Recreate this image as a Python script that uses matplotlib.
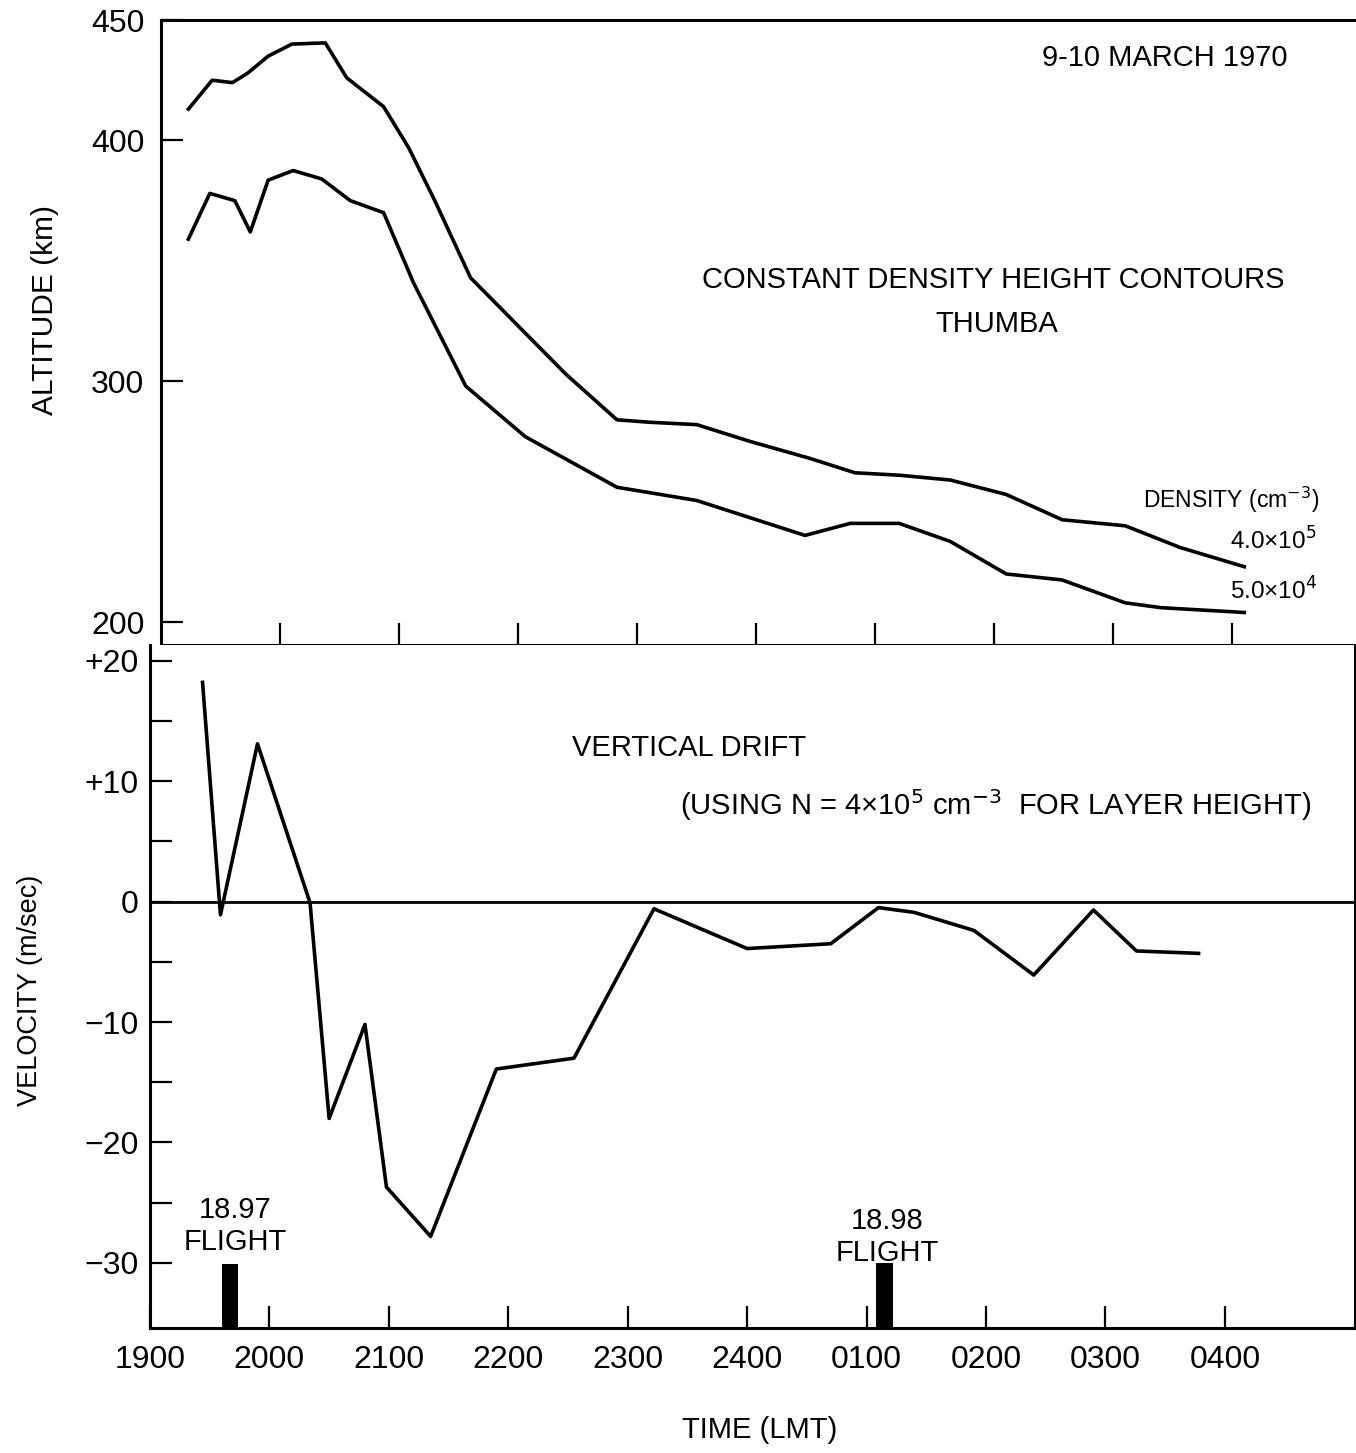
import matplotlib
matplotlib.use("Agg")
import matplotlib.pyplot as plt

plt.rcParams['font.family'] = ['Liberation Sans', 'DejaVu Sans']

# tiempo en horas decimales (24 = medianoche, 28 = 0400)
upper_t = [19.23, 19.43, 19.60, 19.73, 19.90, 20.10, 20.38, 20.56, 20.87, 21.08, 21.30, 21.60,
           22.00, 22.40, 22.83, 23.10, 23.50, 23.95, 24.45, 24.83, 25.20, 25.63, 26.10, 26.57,
           27.10, 27.56, 28.10]
upper_h = [413, 425, 424, 428, 435, 440, 440.5, 426, 414, 397, 375, 343,
           323, 303, 284, 283, 282, 275, 268, 262, 261, 259, 253, 242.5,
           240, 231, 223]

lower_t = [19.23, 19.41, 19.62, 19.75, 19.90, 20.11, 20.35, 20.59, 20.87, 21.12, 21.56, 22.06,
           22.83, 23.50, 24.41, 24.79, 25.20, 25.63, 26.10, 26.57, 27.10, 27.40, 28.10]
lower_h = [359, 378, 375, 362, 383.5, 387.5, 384, 375, 370, 341, 298, 277,
           256, 250.5, 236, 241, 241, 233.5, 220, 217.5, 208, 206, 204]

vel_t = [19.44, 19.59, 19.90, 20.34, 20.50, 20.80, 20.98, 21.35, 21.90, 22.55, 23.22, 24.00,
         24.70, 25.10, 25.40, 25.90, 26.40, 26.90, 27.26, 27.78]
vel_v = [18.2, -1.1, 13.1, -0.1, -18.0, -10.2, -23.7, -27.8, -13.9, -13.0, -0.6, -3.9,
         -3.5, -0.5, -0.9, -2.4, -6.1, -0.7, -4.1, -4.3]

flight_t = [19.67, 25.15]
flight_top = [-30.1, -30.0]
flight_names = ['18.97\nFLIGHT', '18.98\nFLIGHT']

hour_ticks = [19, 20, 21, 22, 23, 24, 25, 26, 27, 28]
hour_labels = ['1900', '2000', '2100', '2200', '2300', '2400', '0100', '0200', '0300', '0400']
alt_ticks = [200, 300, 400, 450]
vel_ticks = [20, 10, 0, -10, -20, -30]
vel_labels = ['+20', '+10', '0', '\u221210', '\u221220', '\u221230']
vel_minor = [15, 5, -5, -15, -25]

W, H = 1356, 1453
fig = plt.figure(figsize=(W / 100, H / 100), dpi=100)

def box(l, t, r, b):
    return [l / W, 1 - b / H, (r - l) / W, (b - t) / H]

ax1 = fig.add_axes(box(161, 20, 1355, 645))
ax2 = fig.add_axes(box(150, 645, 1355, 1328))

lw = 2.6
v_bottom = -35.4

# panel superior
ax1.plot(upper_t, upper_h, color='black', lw=lw)
ax1.plot(lower_t, lower_h, color='black', lw=lw)
ax1.set_xlim(19.0, 29.03)
ax1.set_ylim(190.5, 450)
ax1.set_yticks(alt_ticks)
ax1.set_yticklabels([str(t) for t in alt_ticks])
ax1.set_xticks(hour_ticks[1:])
ax1.tick_params(axis='x', direction='in', length=16, width=1.6, labelbottom=False)
ax1.tick_params(axis='y', direction='in', length=16, width=1.6, labelsize=23, pad=12)
ax1.spines['right'].set_visible(False)

# panel inferior
ax2.plot(vel_t, vel_v, color='black', lw=lw)
ax2.axhline(0, color='black', lw=2.0)
ax2.bar(flight_t, [top - v_bottom for top in flight_top], bottom=v_bottom,
        width=0.14, color='black')
ax2.set_xlim(19.0, 29.09)
ax2.set_ylim(v_bottom, 21.3)
ax2.set_yticks(vel_ticks)
ax2.set_yticklabels(vel_labels)
ax2.set_yticks(vel_minor, minor=True)
ax2.set_xticks(hour_ticks)
ax2.set_xticklabels(hour_labels)
ax2.tick_params(axis='x', direction='in', length=16, width=1.6, labelsize=23, pad=12)
ax2.tick_params(axis='y', which='both', direction='in', length=16, width=1.6, labelsize=23, pad=8)
ax2.spines['top'].set_visible(False)

for ax in (ax1, ax2):
    for s in ax.spines.values():
        s.set_linewidth(2.2)

def ftext(x, y, s, **kw):
    fig.text(x / W, 1 - y / H, s, va='center', **kw)

ftext(1165, 58, '9-10 MARCH 1970', ha='center', fontsize=21)
ftext(993, 280, 'CONSTANT DENSITY HEIGHT CONTOURS', ha='center', fontsize=21)
ftext(997, 324, 'THUMBA', ha='center', fontsize=21)
ftext(1143, 500, 'DENSITY (cm$^{-3}$)', ha='left', fontsize=16.5)
ftext(1230, 541, '4.0\u00d710$^{5}$', ha='left', fontsize=17.5)
ftext(1230, 591, '5.0\u00d710$^{4}$', ha='left', fontsize=17.5)
ftext(572, 748, 'VERTICAL DRIFT', ha='left', fontsize=21)
ftext(680, 805, '(USING N = 4\u00d710$^{5}$ cm$^{-3}$  FOR LAYER HEIGHT)', ha='left', fontsize=21)
ftext(235, 1226, flight_names[0], ha='center', fontsize=21, linespacing=1.15)
ftext(887, 1237, flight_names[1], ha='center', fontsize=21, linespacing=1.15)
ftext(45, 310, 'ALTITUDE (km)', ha='center', fontsize=21.5, rotation=90)
ftext(30, 990, 'VELOCITY (m/sec)', ha='center', fontsize=19.5, rotation=90)
ftext(760, 1430, 'TIME (LMT)', ha='center', fontsize=21)

fig.savefig('out.png', dpi=100)
